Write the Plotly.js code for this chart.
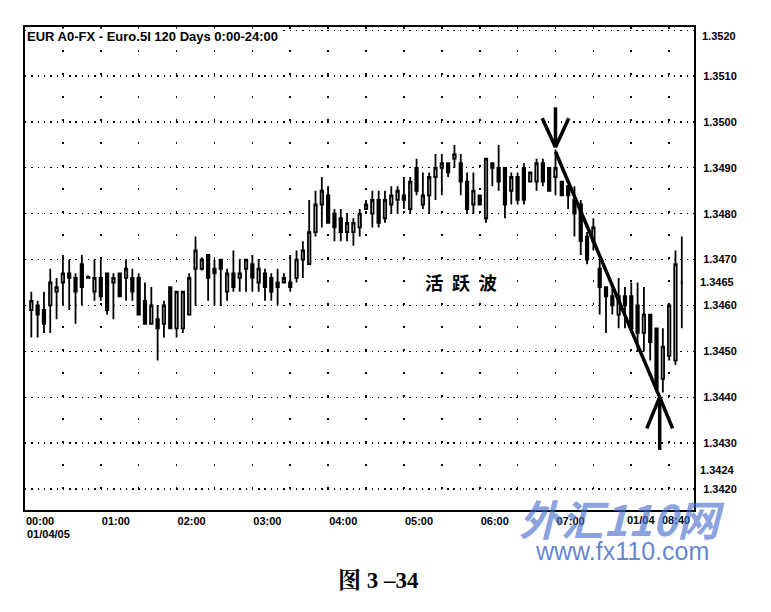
<!DOCTYPE html>
<html><head><meta charset="utf-8">
<script src="https://cdn.plot.ly/plotly-3.0.1.min.js"></script>
<style>html,body{margin:0;padding:0;background:#fff;} #chart{width:771px;height:612px;}</style>
</head><body><div id="chart"></div>
<script>
// ---- data: EUR 5-minute bars, 01/04/05, 00:05 .. 08:40 ----
const barStart = Date.UTC(2005, 0, 4, 0, 5);
const barMinutes = 5;
const opens = [
1.3459,1.3460,1.3459,1.3460,1.3463,1.3465,1.3467,1.3466,1.3469,1.34662,
1.3463,1.3466,1.3467,1.3465,1.3467,1.3466,1.3466,1.3466,1.3461,1.3456,
1.3457,1.3456,1.3464,1.3455,1.3455,1.3458,1.3468,
1.3468,1.3471,1.3468,1.3470,1.3463,1.3467,1.3466,1.3468,1.3469,1.3465,
1.3467,1.3466,1.3465,1.3465,1.3465,1.3466,1.3470,1.3469,1.3476,1.3482,
1.3484,1.3480,1.3479,1.3476,1.3476,1.3477,1.3481,
1.3480,1.3483,1.3479,1.3482,1.3483,1.3484,1.3481,1.3490,1.3482,1.3484,
1.3488,1.3490,1.3491,1.3492,1.3491,1.3487,1.3482,1.3484,1.3479,1.3491,
1.3490,1.3490,1.3485,1.3488,1.3490,1.3487,
1.3487,1.3491,1.3490,1.3488,1.3487,1.3486,1.3483,1.3482,1.3475,1.3474,
1.3468,1.3464,1.3462,1.3458,1.3462,1.3462,1.3460,1.3454,1.3458,1.3455,
1.3444,1.3449,1.3448,1.3465];
const highs = [
1.3463,1.3461,1.3463,1.3468,1.3466,1.3471,1.3470,1.3467,1.3471,1.34665,
1.3470,1.3470,1.3467,1.3467,1.3467,1.3470,1.3468,1.3467,1.3465,1.3464,
1.3460,1.3461,1.3464,1.3463,1.3463,1.3467,1.3475,
1.34705,1.3471,1.3470,1.3470,1.3468,1.3472,1.3470,1.3470,1.3471,1.3470,
1.3468,1.3467,1.3468,1.3467,1.3471,1.3472,1.3474,1.3483,1.3485,1.3488,
1.3486,1.3481,1.3481,1.3480,1.3479,1.3481,1.3483,
1.3485,1.3485,1.3485,1.3486,1.3486,1.3488,1.3488,1.3492,1.3489,1.3489,
1.3493,1.3493,1.3491,1.3495,1.3493,1.3489,1.3489,1.3484,1.3492,1.3491,
1.3495,1.3490,1.3489,1.3489,1.3491,1.3489,
1.3492,1.3492,1.3490,1.3494,1.3487,1.3486,1.3486,1.3483,1.3476,1.3479,
1.3470,1.3464,1.3464,1.3466,1.3464,1.3465,1.3465,1.3464,1.3458,1.3455,
1.3455,1.3460,1.3472,1.3475];
const lows = [
1.3453,1.3453,1.3454,1.3454,1.3457,1.3460,1.3459,1.3456,1.3460,1.3466,
1.3461,1.3461,1.3458,1.3457,1.3462,1.3461,1.3461,1.3458,1.3456,1.3456,
1.3448,1.3453,1.3455,1.3453,1.3454,1.3458,1.3460,
1.34676,1.3461,1.3460,1.3460,1.3461,1.3463,1.3463,1.3463,1.3463,1.3463,
1.3461,1.3461,1.3460,1.3465,1.3463,1.3465,1.3466,1.3469,1.3475,1.3477,
1.3478,1.3474,1.3474,1.3474,1.3473,1.3475,1.3481,
1.3477,1.3477,1.3478,1.3480,1.3480,1.3481,1.3480,1.3484,1.3481,1.3480,
1.3483,1.3484,1.3488,1.3490,1.3484,1.3480,1.3480,1.3482,1.3478,1.3486,
1.3485,1.3479,1.3482,1.3482,1.3482,1.3487,
1.3485,1.3486,1.3485,1.3484,1.3484,1.3481,1.3475,1.3471,1.3469,1.3472,
1.3458,1.3454,1.3458,1.3455,1.3455,1.3454,1.3450,1.3450,1.3448,1.3441,
1.3441,1.3448,1.3447,1.3455];
const closes = [
1.3461,1.3458,1.3456,1.3465,1.3464,1.3467,1.3466,1.3463,1.3464,1.34660,
1.3466,1.3462,1.3459,1.3466,1.3462,1.3468,1.3463,1.3458,1.3456,1.3460,
1.3455,1.3460,1.3455,1.3463,1.3463,1.3466,1.3472,
1.3470,1.3466,1.3467,1.3468,1.3467,1.3464,1.3467,1.3470,1.3466,1.3468,
1.3464,1.3463,1.3464,1.3466,1.3464,1.3470,1.3472,1.3476,1.3482,1.3485,
1.3478,1.3477,1.3476,1.3478,1.3478,1.3480,1.3482,
1.3483,1.3478,1.3483,1.3484,1.3485,1.3483,1.3487,1.3485,1.3484,1.3488,
1.3490,1.3491,1.3489,1.3493,1.3487,1.3481,1.3485,1.3482,1.3492,1.3490,
1.3487,1.3482,1.3488,1.3483,1.3483,1.3489,
1.3491,1.3487,1.3485,1.3490,1.3484,1.3484,1.3480,1.3474,1.3470,1.3477,
1.3464,1.3462,1.3460,1.3462,1.3460,1.3455,1.3454,1.3458,1.3452,1.3442,
1.3451,1.3460,1.3469,1.3465];

const hourTickVals = ['00:00','00:30','01:00','01:30','02:00','02:30','03:00','03:30','04:00','04:30','05:00','05:30','06:00','06:30','07:00','07:30','08:00','08:30'];
const hourTickText = ['00:00','','01:00','','02:00','','03:00','','04:00','','05:00','','06:00','','07:00','','',''];
const priceGrid = [1.3420,1.3430,1.3440,1.3450,1.3460,1.3470,1.3480,1.3490,1.3500,1.3510,1.3520];
const priceGridText = ['1.3420','1.3430','1.3440','1.3450','1.3460','1.3470','1.3480','1.3490','1.3500','1.3510',''];
const markPrices = [1.3424, 1.3465];
const markText = ['1.3424','1.3465'];
const peakIdx = 83, troughIdx = 99;

// ---- helpers ----
const MIN = 60000;
function fmt(ms){
  const d = new Date(ms), p = n => String(n).padStart(2,'0');
  return d.getUTCFullYear()+'-'+p(d.getUTCMonth()+1)+'-'+p(d.getUTCDate())+' '+p(d.getUTCHours())+':'+p(d.getUTCMinutes())+':'+p(d.getUTCSeconds());
}
const times = opens.map((_, i) => fmt(barStart + i*barMinutes*MIN));
const day = '2005-01-04 ';
const tickVals = hourTickVals.map(t => day + t);

const FONT = 'Liberation Sans, Arial, sans-serif';
const tickFont = {family: FONT, size: 11, color: '#000', weight: 'bold'};

const trace = {
  type: 'candlestick', x: times, open: opens, high: highs, low: lows, close: closes,
  increasing: {line: {color: '#000', width: 1.8}, fillcolor: '#fff'},
  decreasing: {line: {color: '#000', width: 1.8}, fillcolor: '#000'},
  whiskerwidth: 0, hoverinfo: 'skip', showlegend: false
};
const dummy = {type: 'scatter', x: [times[0]], y: [markPrices[0]], yaxis: 'y2', mode: 'markers',
  marker: {opacity: 0}, hoverinfo: 'skip', showlegend: false};

// arrow & trend geometry tied to the peak / trough bars
const pMs = barStart + peakIdx*barMinutes*MIN;
const tMs = barStart + troughIdx*barMinutes*MIN + 2.5*MIN;
const pY = highs[peakIdx] + 0.00005;
const tY = lows[troughIdx] - 0.0001;
const LW = 3.5;
function seg(x0, y0, x1, y1){
  return {type: 'line', xref: 'x', yref: 'y', x0: fmt(x0), y0: y0, x1: fmt(x1), y1: y1,
    line: {color: '#000', width: LW}, layer: 'above'};
}
const shapes = [
  seg(pMs, pY + 0.00087, pMs, pY),
  seg(pMs - 10.5*MIN, pY + 0.00063, pMs, pY),
  seg(pMs + 10.5*MIN, pY + 0.00063, pMs, pY),
  seg(pMs, pY - 0.0001, tMs, tY),
  seg(tMs, tY - 0.00115, tMs, tY),
  seg(tMs - 10.2*MIN, tY - 0.00068, tMs, tY),
  seg(tMs + 10.2*MIN, tY - 0.00068, tMs, tY)
];

const yRange = [1.34154, 1.35207];
const layout = {
  width: 771, height: 612,
  margin: {l: 25, r: 77, t: 27, b: 102, pad: 0},
  paper_bgcolor: '#fff', plot_bgcolor: '#fff',
  boxgap: 0.45,
  showlegend: false, hovermode: false,
  xaxis: {
    type: 'date', range: [day + '00:00', day + '08:49:40'],
    rangeslider: {visible: false},
    tickmode: 'array', tickvals: tickVals, ticktext: hourTickText,
    ticklabelposition: 'outside right', ticks: '', tickfont: tickFont,
    showgrid: true, gridcolor: '#000', gridwidth: 1.6, griddash: '1.6px,21.4px',
    showline: true, linecolor: '#000', linewidth: 2, mirror: true,
    zeroline: false, fixedrange: true
  },
  yaxis: {
    side: 'right', range: yRange,
    tickmode: 'array', tickvals: priceGrid, ticktext: priceGridText,
    ticks: '', ticklabelstandoff: 5, tickfont: tickFont,
    showgrid: true, gridcolor: '#000', gridwidth: 1.3, griddash: '1.4px,4.9px',
    showline: true, linecolor: '#000', linewidth: 2, mirror: true,
    zeroline: false, fixedrange: true
  },
  yaxis2: {
    overlaying: 'y', side: 'right', anchor: 'x', range: yRange,
    tickmode: 'array', tickvals: markPrices, ticktext: markText,
    ticks: '', ticklabelstandoff: 5, tickfont: tickFont,
    showgrid: false, zeroline: false, showline: false, fixedrange: true
  },
  shapes: shapes,
  annotations: [
    {text: 'EUR A0-FX - Euro.5I 120 Days 0:00-24:00', xref: 'paper', yref: 'paper', x: 0, y: 1,
     xanchor: 'left', yanchor: 'top', showarrow: false, bgcolor: '#fff', borderpad: 0, xshift: 1, yshift: -1,
     font: {family: FONT, size: 13, color: '#000', weight: 'bold'}},
    {text: '1.3520', xref: 'paper', yref: 'y', x: 1, y: 1.3520, xanchor: 'left', yanchor: 'middle',
     xshift: 6, yshift: -6, showarrow: false, font: tickFont},
    {text: '01/04/05', xref: 'paper', yref: 'paper', x: 0, y: 0, xanchor: 'left', yanchor: 'top',
     yshift: -16, showarrow: false, font: tickFont},
    {text: '01/04', xref: 'paper', yref: 'paper', x: 0.897, y: 0, xanchor: 'left', yanchor: 'top',
     yshift: -2, showarrow: false, font: tickFont},
    {text: '08:40', xref: 'paper', yref: 'paper', x: 0.949, y: 0, xanchor: 'left', yanchor: 'top',
     yshift: -2, showarrow: false, font: tickFont},
    {text: '活\u2002跃\u2002波', xref: 'paper', yref: 'paper', x: 0.652, y: 0.472, xanchor: 'center', yanchor: 'middle',
     showarrow: false, font: {family: 'Noto Sans CJK SC, sans-serif', size: 18, color: '#000', weight: 'bold'}},
    {text: '<i>外汇110网</i>', xref: 'paper', yref: 'paper', x: 0.893, y: -0.015, xanchor: 'center', yanchor: 'middle',
     showarrow: false, font: {family: 'Noto Sans CJK SC, sans-serif', size: 42, color: 'rgba(70,110,205,0.65)', weight: 'bold'}},
    {text: 'www.fx110.com', xref: 'paper', yref: 'paper', x: 0.893, y: -0.085, xanchor: 'center', yanchor: 'middle',
     showarrow: false, font: {family: FONT, size: 25, color: 'rgba(80,120,205,0.9)'}},
    {text: '图 3 –34', xref: 'paper', yref: 'paper', x: 0.529, y: -0.145, xanchor: 'center', yanchor: 'middle',
     showarrow: false, font: {family: 'Liberation Serif, Noto Serif CJK SC, Noto Sans CJK SC, serif', size: 23, color: '#000', weight: 'bold'}}
  ]
};

Plotly.newPlot('chart', [trace, dummy], layout, {staticPlot: true, displayModeBar: false});
</script>
</body></html>
